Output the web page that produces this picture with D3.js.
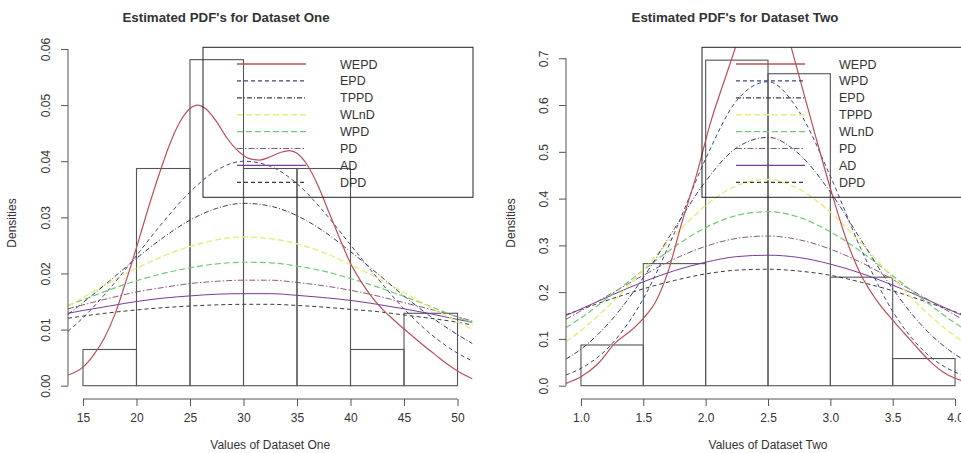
<!DOCTYPE html>
<html><head><meta charset="utf-8">
<script src="https://cdn.jsdelivr.net/npm/d3@7/dist/d3.min.js"></script>
<style>
html,body{margin:0;padding:0;background:#fff;}
svg text{font-family:"Liberation Sans",Arial,sans-serif;fill:#333;}
</style></head>
<body><svg id="c" width="961" height="453"></svg>
<script>
// ---------- data ----------
const leftBreaks = [15,20,25,30,35,40,45,50];
const leftDensity = [0.00645,0.0387,0.0581,0.0387,0.0387,0.00645,0.0129];
const rightBreaks = [1,1.5,2,2.5,3,3.5,4];
const rightDensity = [0.087,0.261,0.696,0.667,0.232,0.058];

const leftXTicks = [15,20,25,30,35,40,45,50];
const leftYTicks = [0,0.01,0.02,0.03,0.04,0.05,0.06];
const rightXTicks = [1.0,1.5,2.0,2.5,3.0,3.5,4.0];
const rightYTicks = [0,0.1,0.2,0.3,0.4,0.5,0.6,0.7];

const leftLegend = ["WEPD","EPD","TPPD","WLnD","WPD","PD","AD","DPD"];
const rightLegend = ["WEPD","WPD","EPD","TPPD","WLnD","PD","AD","DPD"];

// left fitted densities
const leftWEPDx = [13.6,15,16,17,18,19,20,21,22,23,24,25,25.7,26.5,27.5,28.5,29.5,30.5,31.5,32.5,33.5,34.3,35,36,37,38,39,40,41,42,43,44,45,46,47,48,49,50,51.4];
const leftWEPD  = [0.0019,0.0033,0.0055,0.0085,0.0128,0.0185,0.0246,0.0310,0.0370,0.0425,0.0468,0.0494,0.0500,0.0493,0.0470,0.0440,0.0418,0.0405,0.0402,0.0408,0.0416,0.0419,0.0414,0.0392,0.0355,0.0308,0.0262,0.0218,0.0185,0.0158,0.0136,0.0118,0.0101,0.0085,0.0069,0.0054,0.0039,0.0026,0.0012];
const leftX = [13.6,15,17.5,20,22.5,25,27.5,30,32.5,35,37.5,40,42.5,45,47.5,50,51.4];
const leftS2 = [0.0097,0.0121,0.0173,0.0232,0.0292,0.0345,0.0384,0.0400,0.0391,0.0360,0.0310,0.0251,0.0192,0.0137,0.0092,0.0058,0.0044];
const leftS3 = [0.0127,0.0148,0.0187,0.0227,0.0264,0.0295,0.0316,0.0325,0.0320,0.0303,0.0275,0.0239,0.0200,0.0160,0.0123,0.0091,0.0075];
const leftS4 = [0.0142,0.0157,0.0184,0.0209,0.0231,0.0248,0.0260,0.0265,0.0262,0.0253,0.0237,0.0216,0.0192,0.0166,0.0139,0.0114,0.0100];
const leftS5 = [0.0143,0.0153,0.0171,0.0187,0.0200,0.0210,0.0217,0.0220,0.0219,0.0213,0.0204,0.0191,0.0176,0.0159,0.0141,0.0122,0.0112];
const leftS6 = [0.0137,0.0144,0.0156,0.0167,0.0175,0.0182,0.0186,0.0188,0.0188,0.0184,0.0178,0.0170,0.0160,0.0148,0.0136,0.0123,0.0115];
const leftS7 = [0.0129,0.0134,0.0142,0.0150,0.0156,0.0160,0.0163,0.0164,0.0164,0.0161,0.0157,0.0152,0.0145,0.0137,0.0128,0.0118,0.0113];
const leftS8 = [0.0120,0.0124,0.0130,0.0135,0.0139,0.0142,0.0144,0.0145,0.0145,0.0143,0.0140,0.0136,0.0132,0.0126,0.0120,0.0113,0.0108];

// right fitted densities
const rightWEPDx = [0.88,1.0,1.14,1.27,1.41,1.5,1.6,1.7,1.8,1.93,2.03,2.17,2.3,2.4,2.5,2.6,2.7,2.78,2.89,3.02,3.13,3.24,3.37,3.5,3.6,3.7,3.8,3.9,4.0,4.12];
const rightWEPD  = [0.005,0.019,0.048,0.090,0.120,0.144,0.180,0.245,0.340,0.454,0.554,0.668,0.770,0.840,0.860,0.810,0.710,0.632,0.525,0.404,0.311,0.240,0.183,0.140,0.110,0.080,0.052,0.030,0.016,0.006];
const rightX = [0.88,1.0,1.25,1.5,1.75,2.0,2.25,2.5,2.75,3.0,3.25,3.5,3.75,4.0,4.12];
const rightS2 = [0.023,0.037,0.090,0.186,0.327,0.485,0.610,0.650,0.586,0.448,0.290,0.159,0.074,0.029,0.018];
const rightS3 = [0.057,0.078,0.142,0.231,0.336,0.437,0.509,0.531,0.495,0.414,0.310,0.207,0.124,0.067,0.048];
const rightS4 = [0.094,0.118,0.178,0.248,0.321,0.385,0.428,0.441,0.420,0.371,0.304,0.231,0.162,0.106,0.084];
const rightS5 = [0.124,0.145,0.195,0.247,0.297,0.338,0.364,0.372,0.360,0.329,0.286,0.235,0.183,0.134,0.114];
const rightS6 = [0.142,0.160,0.198,0.236,0.271,0.298,0.315,0.320,0.312,0.292,0.263,0.227,0.189,0.151,0.133];
const rightS7 = [0.150,0.164,0.194,0.222,0.246,0.264,0.276,0.279,0.274,0.260,0.240,0.215,0.187,0.157,0.143];
const rightS8 = [0.152,0.163,0.186,0.207,0.225,0.239,0.247,0.249,0.245,0.236,0.221,0.203,0.181,0.158,0.147];

// ---------- styles (by legend position) ----------
const styles = [
  {color:"#b8505a", dash:null, w:1.2},
  {color:"#3f4488", dash:"4,3", w:1},
  {color:"#3d3d5e", dash:"5,2,1,2", w:1},
  {color:"#eaea80", dash:"6,3", w:1.4},
  {color:"#6fcb6f", dash:"6,3", w:1.2},
  {color:"#8a5a78", dash:"6,2,1.5,2", w:1},
  {color:"#7a3a9a", dash:null, w:1},
  {color:"#3a3a3a", dash:"4,3", w:1}
];

const svg = d3.select("#c");

function panel(opt){
  const g = svg.append("g");
  const x = d3.scaleLinear().domain(opt.xDom).range([opt.left, opt.right]);
  const y = d3.scaleLinear().domain(opt.yDom).range([398.7, 47.3]);
  const clipId = "clip"+opt.id;
  svg.append("clipPath").attr("id",clipId).append("rect")
    .attr("x",opt.left).attr("y",47.3).attr("width",opt.right-opt.left).attr("height",398.7-47.3);

  // histogram bars
  const bins = opt.density.map((d,i)=>({x0:opt.breaks[i],x1:opt.breaks[i+1],d}));
  g.selectAll("rect.bar").data(bins).enter().append("rect")
    .attr("x",d=>x(d.x0)).attr("width",d=>x(d.x1)-x(d.x0))
    .attr("y",d=>y(d.d)).attr("height",d=>y(0)-y(d.d))
    .attr("fill","none").attr("stroke","#555").attr("stroke-width",1.1);

  // curves
  const cg = g.append("g").attr("clip-path","url(#"+clipId+")");
  const line = d3.line().x(d=>x(d[0])).y(d=>y(d[1])).curve(d3.curveMonotoneX);
  opt.curves.forEach((c,i)=>{
    const st = styles[c.s];
    cg.append("path").datum(c.xs.map((xv,j)=>[xv,c.ys[j]]))
      .attr("d",line).attr("fill","none").attr("stroke",st.color)
      .attr("stroke-width",st.w).attr("stroke-dasharray",st.dash);
  });

  // y axis
  const yAx = g.append("g").attr("transform","translate("+opt.left+",0)")
    .call(d3.axisLeft(y).tickValues(opt.yTicks).tickSize(7).tickPadding(0).tickFormat(opt.yFmt));
  yAx.select(".domain").attr("d","M0,"+y(opt.yTicks[0])+"V"+y(opt.yTicks[opt.yTicks.length-1])).attr("stroke","#555");
  yAx.selectAll(".tick line").attr("stroke","#555");
  yAx.selectAll(".tick text").attr("transform","rotate(-90)").attr("x",0).attr("y",-18)
    .attr("dy","0").attr("text-anchor","middle").style("font-size","12px")
    .style("font-family","Liberation Sans, Arial, sans-serif").attr("fill","#444");

  // x axis
  const xAx = g.append("g").attr("transform","translate(0,399)")
    .call(d3.axisBottom(x).tickValues(opt.xTicks).tickSize(7).tickPadding(7).tickFormat(opt.xFmt));
  xAx.select(".domain").attr("d","M"+x(opt.xTicks[0])+",0H"+x(opt.xTicks[opt.xTicks.length-1])).attr("stroke","#555");
  xAx.selectAll(".tick line").attr("stroke","#555");
  xAx.selectAll(".tick text").style("font-size","12px")
    .style("font-family","Liberation Sans, Arial, sans-serif").attr("fill","#444");

  // titles
  g.append("text").attr("x",opt.titleX).attr("y",22).attr("text-anchor","middle")
    .style("font-size","13.3px").style("font-weight","bold").attr("fill","#222").text(opt.title);
  g.append("text").attr("x",(opt.left+opt.right)/2).attr("y",449).attr("text-anchor","middle")
    .style("font-size","12px").text(opt.xlab);
  g.append("text").attr("transform","translate("+opt.ylabX+",223) rotate(-90)").attr("text-anchor","middle")
    .style("font-size","12px").text("Densities");

  // legend
  const lg = g.append("g");
  lg.append("rect").attr("x",opt.legX).attr("y",47.3).attr("width",opt.legW).attr("height",150)
    .attr("fill","none").attr("stroke","#222").attr("stroke-width",1);
  opt.legend.forEach((lab,i)=>{
    const st = styles[i];
    const yy = 64 + i*16.9;
    lg.append("line").attr("x1",opt.legX+34).attr("x2",opt.legX+103).attr("y1",yy).attr("y2",yy)
      .attr("stroke",st.color).attr("stroke-width",st.w+0.2).attr("stroke-dasharray",st.dash);
    lg.append("text").attr("x",opt.legX+137).attr("y",yy+4.5).style("font-size","12.5px").attr("fill","#333").text(lab);
  });
}

panel({
  id:"L", xDom:[13.6,51.4], yDom:[-0.00232,0.0603], left:68, right:472.5,
  breaks:leftBreaks, density:leftDensity, xTicks:leftXTicks, yTicks:leftYTicks,
  xFmt:d3.format("d"), yFmt:d3.format(".2f"),
  title:"Estimated PDF's for Dataset One", titleX:226, xlab:"Values of Dataset One", ylabX:16,
  legX:203, legW:270, legend:leftLegend,
  curves:[
    {s:7, xs:leftX, ys:leftS8},
    {s:6, xs:leftX, ys:leftS7},
    {s:5, xs:leftX, ys:leftS6},
    {s:4, xs:leftX, ys:leftS5},
    {s:3, xs:leftX, ys:leftS4},
    {s:2, xs:leftX, ys:leftS3},
    {s:1, xs:leftX, ys:leftS2},
    {s:0, xs:leftWEPDx, ys:leftWEPD}
  ]
});

panel({
  id:"R", xDom:[0.88,4.12], yDom:[-0.02783,0.7235], left:566, right:970,
  breaks:rightBreaks, density:rightDensity, xTicks:rightXTicks, yTicks:rightYTicks,
  xFmt:d3.format(".1f"), yFmt:d3.format(".1f"),
  title:"Estimated PDF's for Dataset Two", titleX:735, xlab:"Values of Dataset Two", ylabX:515,
  legX:702, legW:270, legend:rightLegend,
  curves:[
    {s:7, xs:rightX, ys:rightS8},
    {s:6, xs:rightX, ys:rightS7},
    {s:5, xs:rightX, ys:rightS6},
    {s:4, xs:rightX, ys:rightS5},
    {s:3, xs:rightX, ys:rightS4},
    {s:2, xs:rightX, ys:rightS3},
    {s:1, xs:rightX, ys:rightS2},
    {s:0, xs:rightWEPDx, ys:rightWEPD}
  ]
});
</script></body></html>
